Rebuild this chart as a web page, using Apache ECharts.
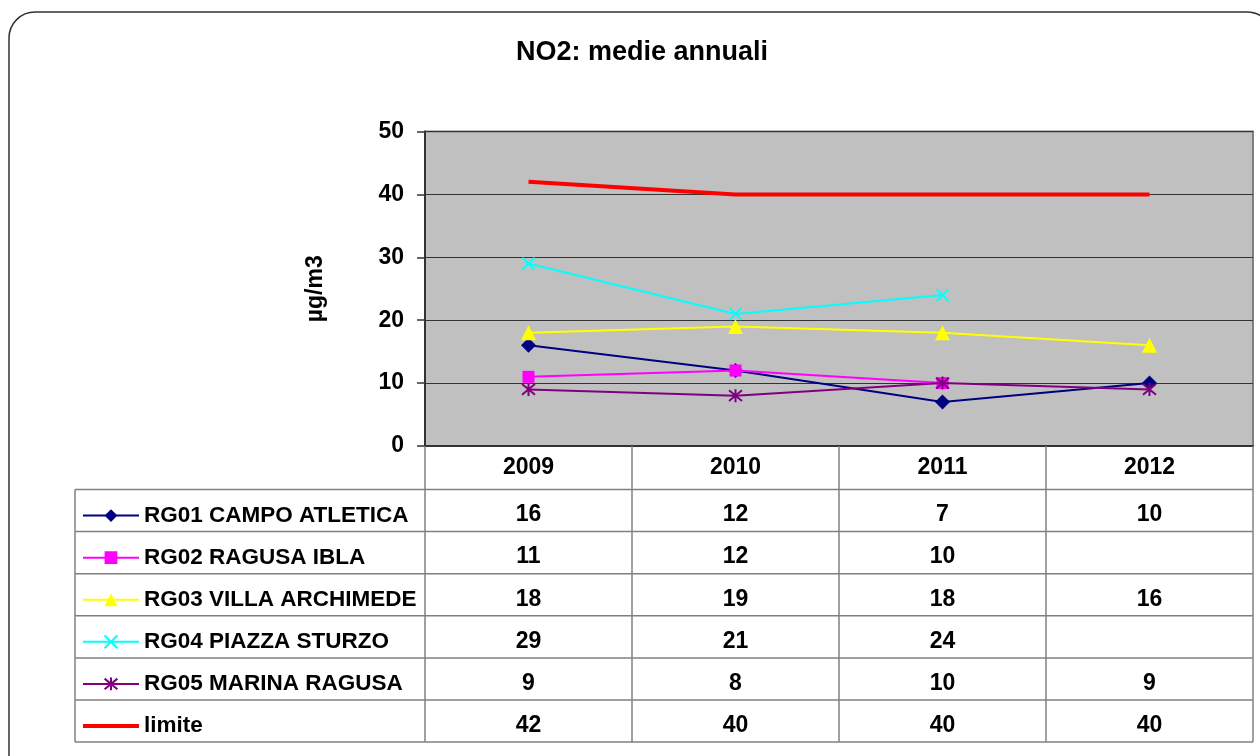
<!DOCTYPE html>
<html>
<head>
<meta charset="utf-8">
<title>NO2: medie annuali</title>
<script src="https://cdn.jsdelivr.net/npm/echarts@6/dist/echarts.min.js"></script>
<style>
  html, body { margin: 0; padding: 0; background: #ffffff; }
  #chart { width: 1260px; height: 756px; }
</style>
</head>
<body>
<div id="chart"></div>
<script>
// Annual NO2 means per monitoring station (µg/m3)
const years = ['2009', '2010', '2011', '2012'];
const stationNames = ['RG01 CAMPO ATLETICA', 'RG02 RAGUSA IBLA', 'RG03 VILLA ARCHIMEDE',
                      'RG04 PIAZZA STURZO', 'RG05 MARINA RAGUSA', 'limite'];
const rg01 = [16, 12, 7, 10];
const rg02 = [11, 12, 10, null];
const rg03 = [18, 19, 18, 16];
const rg04 = [29, 21, 24, null];
const rg05 = [9, 8, 10, 9];
const limite = [42, 40, 40, 40];
const yMin = 0, yMax = 50, yStep = 10;
const titleText = 'NO2: medie annuali';
const unitText = 'µg/m3';

const FONT = '"Liberation Sans", Arial, sans-serif';
const seriesValues = [rg01, rg02, rg03, rg04, rg05, limite];
const seriesStyles = [
  { color: '#000080', symbol: 'diamond', size: 15, width: 2 },
  { color: '#FF00FF', symbol: 'rect', size: 12, width: 2 },
  { color: '#FFFF00', symbol: 'triangle', size: 15, width: 2 },
  { color: '#00FFFF', symbol: 'path://M0,0L10,10M10,0L0,10', size: 12, width: 2, stroke: true },
  { color: '#800080', symbol: 'path://M0,0L10,10M10,0L0,10M5,-1L5,11', size: 13, width: 2, stroke: true },
  { color: '#FF0000', symbol: 'none', size: 0, width: 4 }
];

// table geometry (pixels)
const headerH = 43.5;
const rowH = 42.1;
const legendIconH = 16;
const legendTextH = 24;

const chart = echarts.init(document.getElementById('chart'), null, { renderer: 'canvas' });

const series = stationNames.map((name, i) => {
  const st = seriesStyles[i];
  return {
    name: name,
    type: 'line',
    data: seriesValues[i],
    symbol: st.symbol,
    symbolSize: st.size,
    showSymbol: st.symbol !== 'none',
    connectNulls: false,
    lineStyle: { color: st.color, width: st.width },
    itemStyle: st.stroke
      ? { color: st.color, borderColor: st.color, borderWidth: 2 }
      : { color: st.color, borderWidth: 0 },
    emphasis: { disabled: true },
    z: 3 + i
  };
});

const legendData = stationNames.map((name, i) =>
  seriesStyles[i].symbol === 'none'
    ? { name: name, icon: 'path://M0,0L56,0L56,4L0,4Z' }
    : { name: name });

const option = {
  animation: false,
  backgroundColor: '#ffffff',
  grid: {
    left: 425, top: 131.5, right: 7, bottom: 310,
    show: true, backgroundColor: '#C0C0C0', borderColor: '#808080', borderWidth: 2
  },
  legend: {
    data: legendData,
    orient: 'vertical',
    left: 82, top: 503, padding: 0,
    itemWidth: 56, itemHeight: legendIconH, itemGap: rowH - legendTextH,
    selectedMode: false,
    textStyle: { fontFamily: FONT, fontSize: 22.5, fontWeight: 'bold', color: '#000',
                 lineHeight: legendTextH, height: legendTextH }
  },
  xAxis: {
    type: 'category',
    data: years,
    boundaryGap: true,
    axisLine: { show: true, lineStyle: { color: '#333333', width: 2 } },
    axisTick: { show: false },
    axisLabel: { show: true, margin: 11, fontFamily: FONT, fontSize: 23, fontWeight: 'bold', color: '#000', lineHeight: 22 },
    splitLine: { show: false }
  },
  yAxis: {
    type: 'value',
    min: yMin, max: yMax, interval: yStep,
    name: unitText,
    nameLocation: 'middle',
    nameRotate: 90,
    nameGap: 98,
    nameTextStyle: { fontFamily: FONT, fontSize: 23, fontWeight: 'bold', color: '#000' },
    axisLine: { show: true, lineStyle: { color: '#333333', width: 2 } },
    axisTick: { show: true, length: 8, lineStyle: { color: '#333333', width: 1.5 } },
    axisLabel: { margin: 21, fontFamily: FONT, fontSize: 23, fontWeight: 'bold', color: '#000' },
    splitLine: { show: true, lineStyle: { color: '#333333', width: 1 } }
  },
  series: series
};

chart.setOption(option);

// Data table under the plot, aligned with the category axis
function buildTable() {
  const c0 = chart.convertToPixel({ xAxisIndex: 0 }, 0);
  const c1 = chart.convertToPixel({ xAxisIndex: 0 }, 1);
  const band = c1 - c0;
  const leftX = c0 - band / 2;
  const rightX = leftX + band * years.length;
  const tableTop = chart.convertToPixel({ yAxisIndex: 0 }, yMin);
  const labelLeft = 75;
  const bodyTop = tableTop + headerH;
  const bodyBottom = bodyTop + rowH * stationNames.length;
  const lineStyle = { stroke: '#808080', lineWidth: 1.5 };
  const els = [];

  // outer frame of the chart
  els.push({
    type: 'rect', silent: true, z: 0,
    shape: { x: 9, y: 12, width: 1264, height: 800, r: 26 },
    style: { fill: 'none', stroke: '#333333', lineWidth: 1.5 }
  });
  // title
  els.push({
    type: 'text', silent: true,
    style: { text: titleText, x: 642, y: 53, align: 'center', verticalAlign: 'middle',
             fontFamily: FONT, fontSize: 27, fontWeight: 'bold', fill: '#000' }
  });

  // vertical separators between categories
  for (let k = 0; k <= years.length; k++) {
    const x = leftX + band * k;
    els.push({ type: 'line', silent: true, z: 1, shape: { x1: x, y1: tableTop, x2: x, y2: bodyBottom }, style: lineStyle });
  }
  // left border of the label column
  els.push({ type: 'line', silent: true, z: 1, shape: { x1: labelLeft, y1: bodyTop, x2: labelLeft, y2: bodyBottom }, style: lineStyle });
  // horizontal row separators
  for (let r = 0; r <= stationNames.length; r++) {
    const y = bodyTop + rowH * r;
    els.push({ type: 'line', silent: true, z: 1, shape: { x1: labelLeft, y1: y, x2: rightX, y2: y }, style: lineStyle });
  }
  // cell values
  seriesValues.forEach((vals, r) => {
    const cy = bodyTop + rowH * (r + 0.5) + 4.5;
    vals.forEach((v, k) => {
      if (v === null || v === undefined) return;
      els.push({
        type: 'text', silent: true, z: 2,
        style: { text: String(v), x: chart.convertToPixel({ xAxisIndex: 0 }, k), y: cy,
                 align: 'center', verticalAlign: 'middle',
                 fontFamily: FONT, fontSize: 23, fontWeight: 'bold', fill: '#000' }
      });
    });
  });

  chart.setOption({
    graphic: els,
    legend: { top: bodyTop + rowH / 2 + 1 - legendIconH / 2 }
  });
}

buildTable();
</script>
</body>
</html>
